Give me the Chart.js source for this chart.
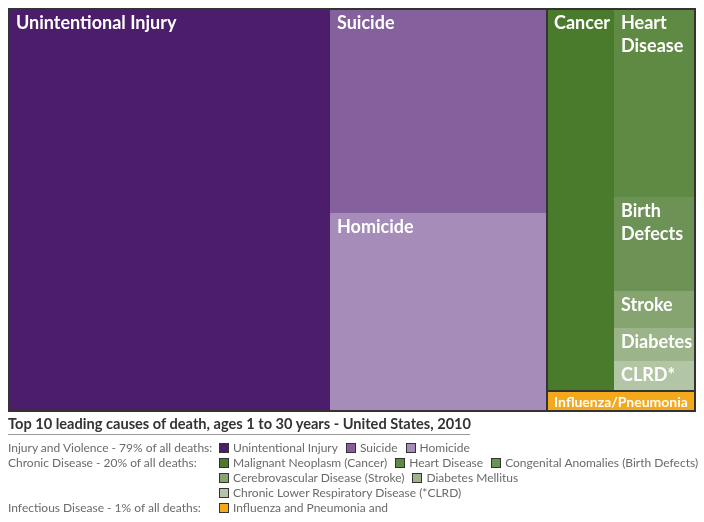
<!DOCTYPE html>
<html>
<head>
<meta charset="utf-8">
<script src="https://cdn.jsdelivr.net/npm/chart.js@4"></script>
<style>
  body { margin: 0; background: #fff; font-family: Lato, sans-serif; }
  #wrap { position: relative; width: 704px; height: 416px; }
  #title { position: absolute; left: 8px; top: 415px; width: 462px; font-size: 14.6px; font-weight: 700; color: #333; border-bottom: 1px solid #999; padding-bottom: 2px; white-space: nowrap; }
  #legend { position: absolute; left: 8px; top: 440px; font-size: 12px; color: #6a6a6a; }
  .row { display: flex; height: 15px; line-height: 15px; white-space: nowrap; }
  .grp { width: 211px; }
  .item { display: flex; align-items: center; margin-right: 8px; }
  .sw { width: 8px; height: 8px; border: 1px solid #333; margin-right: 4px; }
</style>
</head>
<body>
<div id="wrap"><canvas id="myChart" width="704" height="416"></canvas></div>
<div id="title">Top 10 leading causes of death, ages 1 to 30 years - United States, 2010</div>
<div id="legend"></div>
<script>
// data (deaths)
const causes = ['Unintentional Injury', 'Suicide', 'Homicide', 'Cancer', 'Heart Disease',
  'Birth Defects', 'Stroke', 'Diabetes', 'CLRD*', 'Influenza/Pneumonia'];
const deaths = [20800, 7100, 6900, 4100, 2470, 1230, 490, 430, 390, 480];
const colors = ['#4b1d6a', '#84609d', '#a58cb9', '#4a7a2c', '#5f8a44', '#6d9255',
  '#85a46f', '#9bb489', '#b2c5a4', '#f4a81c'];
const legendNames = ['Unintentional Injury', 'Suicide', 'Homicide', 'Malignant Neoplasm (Cancer)',
  'Heart Disease', 'Congenital Anomalies (Birth Defects)', 'Cerebrovascular Disease (Stroke)',
  'Diabetes Mellitus', 'Chronic Lower Respiratory Disease (*CLRD)', 'Influenza and Pneumonia and'];
const groupNames = ['Injury and Violence - 79% of all deaths:', 'Chronic Disease - 20% of all deaths:',
  'Infectious Disease - 1% of all deaths:'];
const groups = [[0, 1, 2], [3, 4, 5, 6, 7, 8], [9]];
const legendRows = [[0, [0, 1, 2]], [1, [3, 4, 5]], [-1, [6, 7]], [-1, [8]], [2, [9]]];

// how the boxes are nested (h = side by side, v = stacked)
const tree = {dir: 'h', kids: [0, {dir: 'v', kids: [1, 2]},
  {dir: 'v', kids: [{dir: 'h', kids: [3, {dir: 'v', kids: [4, 5, 6, 7, 8]}]}, 9]}]};

// treemap area in scale units (one unit = one pixel of the plot area)
const W = 686, H = 402;

function total(n) {
  return typeof n === 'number' ? deaths[n] : n.kids.reduce((s, k) => s + total(k), 0);
}
const rects = [];
function layout(n, x0, y0, x1, y1) {
  if (typeof n === 'number') { rects[n] = {x0, y0, x1, y1}; return; }
  const t = total(n);
  const a = n.dir === 'h' ? x0 : y0, len = (n.dir === 'h' ? x1 : y1) - a;
  let acc = 0;
  n.kids.forEach(k => {
    const s = Math.round(a + acc / t * len);
    acc += total(k);
    const e = Math.round(a + acc / t * len);
    if (n.dir === 'h') layout(k, s, y0, e, y1);
    else layout(k, x0, s, x1, e);
  });
}
layout(tree, 0, 0, W, H);

const datasets = causes.map((c, i) => ({
  label: c,
  data: [{x: rects[i].x0, y: rects[i].y0}, {x: rects[i].x1, y: rects[i].y0}],
  fill: {value: rects[i].y1},
  backgroundColor: colors[i],
  borderColor: colors[i],
  borderWidth: 0,
  pointRadius: 0,
  tension: 0
}));

function wrap(ctx, text, w) {
  const words = text.split(' ');
  const lines = [];
  let cur = '';
  words.forEach(wd => {
    const t = cur ? cur + ' ' + wd : wd;
    if (cur && ctx.measureText(t).width > w) { lines.push(cur); cur = wd; }
    else cur = t;
  });
  lines.push(cur);
  return lines;
}

const treemapDeco = {
  id: 'treemapDeco',
  afterDatasetsDraw(chart) {
    const {ctx, scales: {x, y}} = chart;
    const px = r => ({l: x.getPixelForValue(r.x0), r: x.getPixelForValue(r.x1),
      t: y.getPixelForValue(r.y0), b: y.getPixelForValue(r.y1)});
    ctx.save();
    // group frames
    ctx.strokeStyle = '#333';
    ctx.lineWidth = 2;
    groups.forEach(g => {
      const r = {x0: Math.min(...g.map(i => rects[i].x0)), x1: Math.max(...g.map(i => rects[i].x1)),
        y0: Math.min(...g.map(i => rects[i].y0)), y1: Math.max(...g.map(i => rects[i].y1))};
      const p = px(r);
      ctx.strokeRect(p.l, p.t, p.r - p.l, p.b - p.t);
    });
    // labels
    ctx.fillStyle = '#fff';
    causes.forEach((c, i) => {
      const p = px(rects[i]);
      if (i === 9) {
        ctx.font = 'bold 14px Lato';
        ctx.textAlign = 'center';
        ctx.textBaseline = 'middle';
        ctx.fillText(c, (p.l + p.r) / 2, (p.t + p.b) / 2 + 1);
        return;
      }
      ctx.font = 'bold 18px Lato';
      ctx.textAlign = 'left';
      ctx.textBaseline = 'alphabetic';
      wrap(ctx, c, p.r - p.l - 12).forEach((ln, k) => {
        ctx.fillText(ln, p.l + 7, p.t + 20 + k * 23);
      });
    });
    ctx.restore();
  }
};

new Chart(document.getElementById('myChart'), {
  type: 'line',
  data: {datasets},
  options: {
    responsive: false,
    animation: false,
    layout: {padding: {left: 9, right: 9, top: 9, bottom: 5}},
    scales: {
      x: {type: 'linear', min: 0, max: W, display: false},
      y: {type: 'linear', min: 0, max: H, reverse: true, display: false}
    },
    plugins: {legend: {display: false}, tooltip: {enabled: false}}
  },
  plugins: [treemapDeco]
});

// legend below
const legend = document.getElementById('legend');
legendRows.forEach(([g, items]) => {
  const row = document.createElement('div');
  row.className = 'row';
  const lab = document.createElement('div');
  lab.className = 'grp';
  lab.textContent = g >= 0 ? groupNames[g] : '';
  row.appendChild(lab);
  items.forEach(i => {
    const it = document.createElement('div');
    it.className = 'item';
    it.innerHTML = '<span class="sw" style="background:' + colors[i] + '"></span>' + legendNames[i];
    row.appendChild(it);
  });
  legend.appendChild(row);
});
</script>
</body>
</html>
